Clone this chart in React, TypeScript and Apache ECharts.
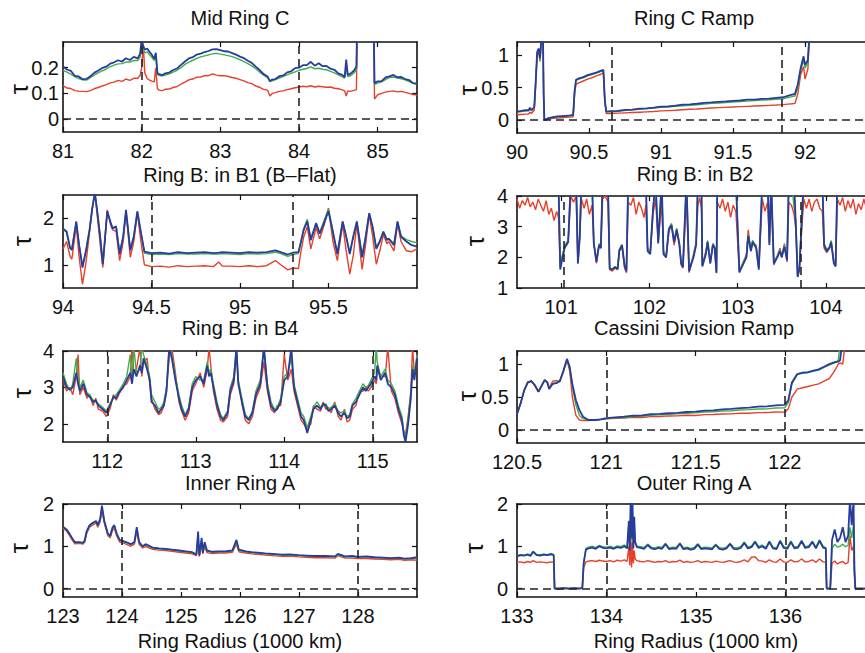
import React, { useEffect, useRef } from "react";
import * as echarts from "echarts";

const FONT = "'Liberation Sans', Arial, Helvetica, sans-serif";
const RED = "#e6402b";
const GREEN = "#3fae4a";
const BLUE = "#283c9c";

// ---------- Panel 1: Mid Ring C ----------
const P1_X = [
  81.0, 81.05, 81.1, 81.15, 81.2, 81.25, 81.3, 81.35, 81.4, 81.45,
  81.5, 81.55, 81.6, 81.65, 81.7, 81.75, 81.8, 81.85, 81.9, 81.95,
  81.98, 82.0, 82.02, 82.04, 82.07, 82.1, 82.13, 82.16, 82.18, 82.2,
  82.22, 82.26, 82.3, 82.35, 82.4, 82.45, 82.5, 82.55, 82.6, 82.65,
  82.7, 82.75, 82.8, 82.85, 82.9, 82.95, 83.0, 83.05, 83.1, 83.15,
  83.2, 83.25, 83.3, 83.35, 83.4, 83.45, 83.5, 83.55, 83.6, 83.63,
  83.66, 83.7, 83.75, 83.8, 83.85, 83.9, 83.95, 84.0, 84.05, 84.1,
  84.15, 84.2, 84.25, 84.3, 84.35, 84.4, 84.45, 84.5, 84.55, 84.58,
  84.6, 84.62, 84.65, 84.7, 84.73, 84.75, 84.8, 84.85, 84.9, 84.94,
  84.96, 85.0, 85.05, 85.1, 85.15, 85.2, 85.25, 85.3, 85.35, 85.4,
  85.45, 85.5,
];
const P1_BLUE = [
  0.205, 0.193, 0.188, 0.168, 0.166, 0.155, 0.157, 0.167, 0.181, 0.189,
  0.199, 0.204, 0.216, 0.221, 0.229, 0.224, 0.237, 0.23, 0.242, 0.236,
  0.255, 0.31, 0.285, 0.27, 0.275, 0.262, 0.25, 0.235, 0.258, 0.18,
  0.175, 0.171, 0.178, 0.181, 0.191, 0.197, 0.211, 0.224, 0.236, 0.241,
  0.251, 0.255, 0.261, 0.265, 0.271, 0.272, 0.268, 0.264, 0.263, 0.257,
  0.251, 0.243, 0.237, 0.227, 0.219, 0.204, 0.191, 0.175, 0.166, 0.148,
  0.154, 0.156, 0.167, 0.17, 0.182, 0.186, 0.198, 0.2, 0.21, 0.21,
  0.223, 0.208, 0.217, 0.206, 0.207, 0.196, 0.192, 0.178, 0.172, 0.163,
  0.232, 0.172, 0.176, 0.189, 0.205, 0.6, 0.6, 0.6, 0.6, 0.6,
  0.14, 0.147, 0.148, 0.162, 0.166, 0.172, 0.163, 0.164, 0.156, 0.152,
  0.14, 0.138,
];
const P1_GREEN = [
  0.19, 0.183, 0.175, 0.165, 0.158, 0.153, 0.152, 0.162, 0.172, 0.181,
  0.188, 0.195, 0.204, 0.21, 0.215, 0.216, 0.222, 0.222, 0.228, 0.228,
  0.24, 0.29, 0.27, 0.258, 0.262, 0.25, 0.24, 0.228, 0.245, 0.175,
  0.17, 0.168, 0.171, 0.176, 0.183, 0.19, 0.2, 0.213, 0.222, 0.229,
  0.236, 0.242, 0.246, 0.25, 0.254, 0.256, 0.253, 0.25, 0.247, 0.243,
  0.237, 0.231, 0.224, 0.216, 0.207, 0.196, 0.183, 0.171, 0.161, 0.146,
  0.149, 0.154, 0.16, 0.166, 0.172, 0.178, 0.184, 0.19, 0.194, 0.197,
  0.203, 0.196, 0.198, 0.194, 0.192, 0.186, 0.18, 0.172, 0.164, 0.16,
  0.2, 0.166, 0.168, 0.18, 0.192, 0.6, 0.6, 0.6, 0.6, 0.6,
  0.135, 0.14, 0.145, 0.154, 0.162, 0.164, 0.16, 0.157, 0.153, 0.146,
  0.139, 0.135,
];
const P1_RED = [
  0.13, 0.121, 0.119, 0.111, 0.109, 0.108, 0.107, 0.111, 0.119, 0.123,
  0.129, 0.134, 0.141, 0.144, 0.151, 0.147, 0.156, 0.151, 0.159, 0.159,
  0.17, 0.2, 0.29, 0.18, 0.158, 0.152, 0.148, 0.145, 0.2, 0.118,
  0.113, 0.111, 0.116, 0.117, 0.123, 0.127, 0.136, 0.144, 0.153, 0.156,
  0.163, 0.164, 0.169, 0.169, 0.176, 0.171, 0.169, 0.169, 0.166, 0.162,
  0.159, 0.154, 0.149, 0.142, 0.138, 0.129, 0.124, 0.116, 0.113, 0.09,
  0.1, 0.103, 0.108, 0.11, 0.115, 0.118, 0.122, 0.125, 0.128, 0.126,
  0.13, 0.125, 0.128, 0.126, 0.124, 0.125, 0.12, 0.118, 0.114, 0.11,
  0.09, 0.11, 0.108, 0.112, 0.115, 0.6, 0.6, 0.6, 0.6, 0.6,
  0.078, 0.095, 0.1, 0.105, 0.108, 0.11, 0.106, 0.108, 0.104, 0.1,
  0.096, 0.094,
];

// ---------- Panel 2: Ring C Ramp ----------
const P2_X = [
  90.0, 90.03, 90.06, 90.08, 90.09, 90.1, 90.12, 90.13, 90.14, 90.15,
  90.16, 90.17, 90.18, 90.185, 90.19, 90.2, 90.22, 90.25, 90.28, 90.31,
  90.34, 90.37, 90.39, 90.4, 90.41, 90.43, 90.46, 90.49, 90.52, 90.55,
  90.58, 90.6, 90.61, 90.62, 90.65, 90.7, 90.75, 90.8, 90.85, 90.9,
  90.95, 91.0, 91.05, 91.1, 91.15, 91.2, 91.25, 91.3, 91.35, 91.4,
  91.45, 91.5, 91.55, 91.6, 91.65, 91.7, 91.75, 91.8, 91.85, 91.88,
  91.91, 91.93, 91.95, 91.97, 91.99, 92.0, 92.02, 92.03, 92.05, 92.1,
  92.2, 92.3, 92.4, 92.5,
];
const P2_BLUE = [
  0.13, 0.14, 0.15, 0.15, 0.19, 0.15, 0.2, 0.6, 1.05, 1.1,
  0.95, 1.3, 1.4, 0.4, 0.0, 0.01, 0.03, 0.045, 0.055, 0.06,
  0.065, 0.07, 0.08, 0.45, 0.62, 0.64, 0.66, 0.69, 0.71, 0.73,
  0.755, 0.77, 0.3, 0.13, 0.135, 0.14, 0.155, 0.16, 0.175, 0.18,
  0.19, 0.205, 0.21, 0.22, 0.235, 0.24, 0.25, 0.262, 0.27, 0.28,
  0.285, 0.295, 0.3, 0.312, 0.315, 0.325, 0.33, 0.34, 0.35, 0.37,
  0.39, 0.4, 0.55, 0.8, 0.98, 0.85, 0.92, 1.3, 1.6, 2.0,
  2.0, 2.0, 2.0, 2.0,
];
const P2_GREEN = [
  0.12, 0.13, 0.14, 0.14, 0.18, 0.14, 0.19, 0.58, 1.03, 1.08,
  0.93, 1.3, 1.4, 0.4, 0.0, 0.01, 0.028, 0.04, 0.05, 0.055,
  0.06, 0.065, 0.075, 0.44, 0.61, 0.63, 0.65, 0.68, 0.7, 0.72,
  0.745, 0.76, 0.3, 0.125, 0.125, 0.135, 0.145, 0.155, 0.165, 0.175,
  0.185, 0.195, 0.2, 0.21, 0.22, 0.228, 0.235, 0.245, 0.255, 0.262,
  0.27, 0.278, 0.285, 0.29, 0.298, 0.305, 0.312, 0.32, 0.328, 0.345,
  0.36, 0.37, 0.5, 0.76, 0.93, 0.8, 0.88, 1.3, 1.6, 2.0,
  2.0, 2.0, 2.0, 2.0,
];
const P2_RED = [
  0.08, 0.085, 0.09, 0.09, 0.12, 0.1, 0.15, 0.55, 1.0, 1.05,
  0.9, 1.3, 1.4, 0.35, 0.0, 0.0, 0.015, 0.025, 0.03, 0.035,
  0.04, 0.045, 0.05, 0.4, 0.55, 0.57, 0.6, 0.63, 0.65, 0.68,
  0.7, 0.73, 0.28, 0.1, 0.1, 0.105, 0.11, 0.115, 0.12, 0.125,
  0.13, 0.14, 0.145, 0.15, 0.158, 0.165, 0.17, 0.178, 0.185, 0.19,
  0.195, 0.2, 0.205, 0.21, 0.215, 0.22, 0.225, 0.23, 0.237, 0.245,
  0.25, 0.255, 0.4, 0.7, 0.82, 0.63, 0.78, 1.3, 1.6, 2.0,
  2.0, 2.0, 2.0, 2.0,
];

// ---------- Panel 3: Ring B: in B1 (B-Flat) ----------
const P3_X = [
  94.0, 94.02, 94.04, 94.05, 94.075, 94.09, 94.11, 94.13, 94.15, 94.165,
  94.18, 94.195, 94.21, 94.225, 94.25, 94.27, 94.28, 94.3, 94.32, 94.34,
  94.356, 94.38, 94.4, 94.42, 94.44, 94.46, 94.5, 94.55, 94.6, 94.65,
  94.7, 94.75, 94.8, 94.85, 94.88, 94.9, 94.95, 95.0, 95.05, 95.1,
  95.15, 95.2, 95.23, 95.27, 95.3, 95.33, 95.345, 95.36, 95.38, 95.4,
  95.43, 95.45, 95.475, 95.5, 95.525, 95.55, 95.58, 95.6, 95.62, 95.64,
  95.66, 95.69, 95.71, 95.73, 95.75, 95.77, 95.79, 95.81, 95.83, 95.84,
  95.87, 95.89, 95.91, 95.94, 95.97, 96.0,
];
const P3_BLUE = [
  1.78, 1.71, 1.36, 1.32, 1.93, 1.45, 0.94, 1.3, 1.75, 2.2,
  2.55, 2.1, 1.6, 1.01, 2.15, 1.9, 1.78, 1.82, 1.23, 1.6,
  2.18, 1.31, 1.6, 2.15, 1.7, 1.28, 1.25, 1.26, 1.24, 1.27,
  1.25, 1.26, 1.27, 1.25, 1.26, 1.27, 1.26, 1.25, 1.27, 1.26,
  1.27, 1.31, 1.27, 1.22, 1.26, 1.27, 1.5, 1.75, 1.93, 1.53,
  1.89, 1.67, 1.9, 2.15, 1.7, 1.23, 1.93, 1.6, 1.23, 1.6,
  1.93, 1.16, 1.6, 2.11, 1.8, 1.34, 1.5, 1.71, 1.53, 1.56,
  1.42, 1.93, 1.6, 1.5, 1.42, 1.39,
];
const P3_GREEN = [
  1.75, 1.72, 1.38, 1.33, 1.92, 1.47, 0.98, 1.32, 1.76, 2.2,
  2.55, 2.1, 1.62, 1.04, 2.12, 1.9, 1.8, 1.83, 1.26, 1.62,
  2.15, 1.33, 1.62, 2.12, 1.7, 1.25, 1.22, 1.23, 1.22, 1.24,
  1.23, 1.23, 1.24, 1.23, 1.23, 1.24, 1.23, 1.22, 1.24, 1.23,
  1.24, 1.27, 1.24, 1.18, 1.22, 1.24, 1.52, 1.78, 1.98, 1.56,
  1.9, 1.69, 1.95, 2.2, 1.72, 1.26, 1.93, 1.62, 1.26, 1.62,
  1.93, 1.2, 1.62, 2.1, 1.8, 1.37, 1.52, 1.72, 1.55, 1.57,
  1.45, 1.92, 1.62, 1.54, 1.5, 1.47,
];
const P3_RED = [
  1.34, 1.5, 1.18, 1.12, 1.85, 1.2, 0.58, 1.05, 1.7, 2.2,
  2.55, 2.0, 1.45, 0.94, 2.18, 1.85, 1.75, 1.72, 1.09, 1.5,
  2.15, 1.16, 1.5, 2.12, 1.5, 1.0, 0.96, 0.97, 0.95, 0.98,
  0.96, 0.97, 0.98, 0.96, 1.06, 0.97, 0.97, 0.96, 0.98, 0.96,
  0.98, 1.09, 1.0, 0.89, 0.93, 0.92, 1.3, 1.6, 1.82, 1.34,
  1.8, 1.56, 1.85, 2.22, 1.5, 1.09, 1.88, 1.3, 0.8, 1.2,
  1.88, 0.9, 1.45, 2.08, 1.6, 1.01, 1.3, 1.65, 1.45, 1.5,
  1.3, 1.88, 1.5, 1.3, 1.28, 1.34,
];

// ---------- Panel 4: Ring B: in B2 ----------
const P4_X = [
  100.5, 100.53, 100.56, 100.59, 100.62, 100.65, 100.68, 100.71, 100.74, 100.77,
  100.8, 100.83, 100.86, 100.89, 100.92, 100.95, 100.97,
  100.99, 101.01, 101.04, 101.08, 101.11, 101.14, 101.17, 101.19, 101.21, 101.23,
  101.26, 101.29, 101.32, 101.35, 101.37, 101.4, 101.43, 101.45, 101.47,
  101.5, 101.53, 101.55, 101.58, 101.61, 101.64, 101.66, 101.69, 101.72, 101.74, 101.76,
  101.79, 101.82, 101.85, 101.88, 101.91, 101.94, 101.96,
  101.98, 102.01, 102.04, 102.07, 102.1, 102.14, 102.16, 102.19, 102.22, 102.25,
  102.28, 102.31, 102.34, 102.36, 102.38, 102.42, 102.45, 102.5, 102.53, 102.55,
  102.57, 102.59, 102.6, 102.64, 102.66, 102.69, 102.72, 102.74, 102.76, 102.77,
  102.8, 102.83, 102.86, 102.89, 102.92, 102.95, 102.98,
  103.02, 103.05, 103.1, 103.12, 103.15, 103.17, 103.21, 103.24, 103.28, 103.31,
  103.34, 103.36, 103.38, 103.41, 103.45, 103.48, 103.5, 103.53, 103.56, 103.58,
  103.61, 103.64, 103.66, 103.68, 103.7, 103.73, 103.75,
  103.78, 103.81, 103.84, 103.87, 103.9, 103.93, 103.96,
  103.98, 104.01, 104.04, 104.06, 104.09, 104.11, 104.13,
  104.16, 104.19, 104.22, 104.25, 104.28, 104.31, 104.34, 104.37, 104.4, 104.43,
  104.46, 104.5,
];
const P4_BLUE = [
  4.5, 4.5, 4.5, 4.5, 4.5, 4.5, 4.5, 4.5, 4.5, 4.5,
  4.5, 4.5, 4.5, 4.5, 4.5, 4.5, 4.5,
  1.6, 1.9, 2.3, 2.5, 4.5, 4.5, 4.5, 1.8, 2.6, 4.5,
  4.5, 4.5, 4.5, 4.5, 2.45, 1.85, 2.4, 2.3, 4.5,
  4.5, 4.5, 1.63, 1.6, 1.68, 1.62, 2.23, 2.4, 1.7, 1.55, 4.5,
  4.5, 4.5, 4.5, 4.5, 4.5, 4.5, 4.5,
  2.2, 2.1, 3.5, 4.5, 2.45, 4.5, 2.1, 2.0, 2.9, 3.05,
  2.5, 2.9, 2.4, 1.8, 1.68, 4.5, 1.55, 2.0, 2.4, 4.5,
  4.5, 4.5, 1.7, 2.1, 2.5, 1.8, 2.4, 2.3, 1.5, 4.5,
  4.5, 4.5, 4.5, 4.5, 4.5, 4.5, 4.5,
  1.52, 1.7, 2.0, 2.7, 2.2, 2.5, 2.3, 1.6, 4.5, 4.5,
  4.5, 2.4, 4.5, 1.8, 2.0, 2.2, 2.0, 2.35, 1.9, 4.5,
  4.5, 4.5, 3.0, 1.36, 1.6, 3.4, 4.5,
  4.5, 4.5, 4.5, 4.5, 4.5, 4.5, 4.5,
  2.4, 2.2, 2.3, 2.5, 1.8, 1.71, 4.5,
  4.5, 4.5, 4.5, 4.5, 4.5, 4.5, 4.5, 4.5, 4.5, 4.5,
  4.5, 4.5,
];
const P4_GREEN = [
  4.5, 4.5, 4.5, 4.5, 4.5, 4.5, 4.5, 4.5, 4.5, 4.5,
  4.5, 4.5, 4.5, 4.5, 4.5, 4.5, 4.5,
  1.7, 2.0, 2.4, 2.55, 4.5, 4.5, 4.5, 1.85, 2.7, 4.5,
  4.5, 4.5, 4.5, 4.5, 2.5, 1.9, 2.45, 2.35, 4.5,
  4.5, 4.5, 1.65, 1.62, 1.7, 1.65, 2.25, 2.42, 1.75, 1.6, 4.5,
  4.5, 4.5, 4.5, 4.5, 4.5, 4.5, 4.5,
  2.25, 2.15, 3.55, 4.5, 2.5, 4.5, 2.15, 2.05, 2.95, 3.1,
  2.55, 2.95, 2.45, 1.85, 1.72, 4.5, 1.6, 2.05, 2.45, 4.5,
  4.5, 4.5, 1.75, 2.15, 2.55, 1.85, 2.45, 2.35, 1.55, 4.5,
  4.5, 4.5, 4.5, 4.5, 4.5, 4.5, 4.5,
  1.56, 1.75, 2.05, 2.75, 2.25, 2.55, 2.35, 1.65, 4.5, 4.5,
  4.5, 2.45, 4.5, 1.85, 2.05, 2.25, 2.05, 2.4, 1.95, 4.5,
  4.5, 3.6, 3.2, 1.45, 1.7, 3.6, 4.5,
  4.5, 4.5, 4.5, 4.5, 4.5, 4.5, 4.5,
  2.45, 2.25, 2.35, 2.55, 1.85, 1.76, 4.5,
  4.5, 4.5, 4.5, 4.5, 4.5, 4.5, 4.5, 4.5, 4.5, 4.5,
  4.5, 4.5,
];
const P4_RED = [
  3.9, 3.6, 3.85, 3.7, 3.95, 3.65, 3.8, 3.55, 3.9, 3.7,
  3.5, 3.85, 3.4, 3.6, 3.2, 3.5, 3.3,
  1.7, 2.0, 2.35, 2.5, 4.0, 3.8, 4.0, 1.8, 2.6, 3.9,
  3.6, 3.9, 3.4, 3.7, 2.5, 1.8, 2.4, 2.3, 3.9,
  4.0, 3.8, 1.6, 1.55, 1.65, 1.6, 2.2, 2.35, 1.65, 1.5, 3.8,
  3.7, 3.95, 3.4, 3.8, 3.6, 3.3, 3.7,
  2.3, 2.15, 3.4, 3.9, 2.5, 3.8, 2.2, 2.0, 2.8, 3.1,
  2.4, 2.85, 2.5, 1.75, 1.65, 3.9, 1.5, 2.1, 2.5, 3.7,
  3.95, 3.6, 1.75, 2.2, 2.5, 1.8, 2.45, 2.3, 1.48, 3.8,
  3.6, 3.9, 3.5, 3.8, 3.3, 3.7, 3.5,
  1.5, 1.75, 2.1, 2.9, 2.2, 2.45, 2.4, 1.65, 3.9, 3.5,
  3.8, 2.5, 3.9, 1.75, 2.05, 2.3, 2.0, 2.45, 1.85, 3.8,
  3.7, 3.4, 2.9, 1.4, 1.65, 3.1, 3.9,
  3.6, 3.9, 3.5, 3.8, 3.9, 3.6, 3.5,
  2.3, 2.15, 2.3, 2.5, 1.85, 1.7, 3.9,
  3.7, 3.95, 3.5, 3.85, 3.6, 3.9, 3.4, 3.75, 3.55, 3.9,
  3.6, 3.8,
];

// ---------- Panel 5: Ring B: in B4 ----------
const P5_X = [
  111.5, 111.54, 111.58, 111.61, 111.65, 111.67, 111.69, 111.73, 111.77, 111.8,
  111.84, 111.87, 111.9, 111.95, 111.99, 112.03, 112.07, 112.1, 112.13, 112.18,
  112.22, 112.26, 112.28, 112.3, 112.33, 112.37, 112.39, 112.41, 112.45, 112.48,
  112.5, 112.54, 112.58, 112.61, 112.64, 112.67, 112.7, 112.73, 112.77, 112.81,
  112.84, 112.88, 112.92, 112.96, 113.0, 113.05, 113.09, 113.13, 113.15, 113.17,
  113.2, 113.24, 113.28, 113.31, 113.36, 113.39, 113.43, 113.46, 113.48, 113.53,
  113.56, 113.6, 113.64, 113.68, 113.73, 113.77, 113.81, 113.85, 113.89, 113.92,
  113.96, 114.0, 114.04, 114.08, 114.11, 114.15, 114.19, 114.22, 114.26, 114.3,
  114.33, 114.37, 114.41, 114.44, 114.47, 114.5, 114.53, 114.57, 114.61, 114.64,
  114.68, 114.71, 114.74, 114.77, 114.81, 114.85, 114.89, 114.92, 114.95, 114.98,
  115.02, 115.04, 115.05, 115.09, 115.14, 115.17, 115.21, 115.25, 115.29, 115.33,
  115.35, 115.37, 115.4, 115.43, 115.45, 115.47, 115.5,
];
const P5_BLUE = [
  3.3, 3.0, 2.95, 3.0, 3.4, 3.1, 2.9, 3.1, 2.8, 2.75,
  2.6, 2.65, 2.5, 2.4, 2.3, 2.5, 2.75, 2.7, 2.85, 3.0,
  3.2, 3.4, 3.1, 3.5, 3.3, 3.6, 3.4, 3.8, 3.5, 3.2,
  2.6, 2.5, 2.3, 2.4, 2.5, 2.9, 4.1, 3.8, 3.2, 2.7,
  2.4, 2.2, 2.4, 3.0, 3.2, 3.3, 3.1, 3.6, 3.3, 3.4,
  3.0, 2.5, 2.2, 2.1, 2.3, 2.9, 3.2, 4.1, 3.1, 2.5,
  2.2, 2.1, 2.3, 2.8, 3.1, 4.1, 3.0, 2.5, 2.35, 2.4,
  2.6, 3.2, 3.3, 4.1, 3.0, 2.6, 2.2, 2.1, 1.75, 2.1,
  2.4, 2.5, 2.4, 2.55, 2.5, 2.35, 2.4, 2.5, 2.3, 2.2,
  2.3, 2.15, 2.2, 2.5, 2.6, 2.8, 3.0, 2.9, 3.0, 3.1,
  3.3, 3.2, 3.6, 3.2, 3.4, 3.1, 3.0, 2.8, 2.4, 2.1,
  1.7, 1.5, 2.0, 2.7, 3.5, 3.2, 3.8,
];
const P5_GREEN = [
  3.4, 3.1, 2.9, 3.1, 3.8, 3.3, 3.0, 3.2, 2.85, 2.8,
  2.65, 2.6, 2.55, 2.45, 2.35, 2.55, 2.7, 2.8, 2.9, 3.1,
  3.3, 3.9, 3.2, 4.1, 3.4, 3.5, 4.1, 3.9, 3.6, 3.3,
  2.8, 2.6, 2.4, 2.45, 2.6, 3.0, 4.1, 3.9, 3.3, 2.8,
  2.5, 2.25, 2.45, 3.1, 3.3, 3.2, 3.2, 3.7, 3.4, 3.5,
  3.1, 2.6, 2.25, 2.15, 2.35, 3.0, 3.3, 4.1, 3.2, 2.6,
  2.25, 2.15, 2.35, 2.9, 3.2, 4.1, 3.1, 2.6, 2.4, 2.45,
  2.7, 3.3, 3.4, 3.8, 3.1, 2.7, 2.3, 2.2, 1.9, 2.2,
  2.45, 2.6, 2.45, 2.5, 2.55, 2.4, 2.45, 2.55, 2.35, 2.3,
  2.35, 2.2, 2.25, 2.55, 2.7, 2.9, 3.1, 3.0, 3.05, 3.2,
  3.4, 4.1, 3.7, 3.3, 3.5, 3.2, 3.1, 2.9, 2.5, 2.2,
  1.8, 1.6, 2.1, 2.8, 3.6, 3.3, 3.9,
];
const P5_RED = [
  3.25, 2.9, 3.0, 2.8, 3.3, 3.9, 2.8, 3.0, 2.7, 2.8,
  2.5, 2.7, 2.4, 2.35, 2.2, 2.4, 2.8, 2.65, 2.8, 3.05,
  3.1, 3.3, 4.1, 3.4, 3.5, 4.1, 3.3, 3.7, 3.8, 3.1,
  2.7, 2.4, 2.25, 2.3, 2.5, 3.0, 3.8, 4.1, 3.4, 2.6,
  2.35, 2.1, 2.3, 2.9, 3.1, 3.4, 3.0, 3.5, 4.1, 3.6,
  2.9, 2.4, 2.1, 2.05, 2.2, 2.8, 3.1, 3.9, 3.2, 2.45,
  2.1, 2.0, 2.2, 2.7, 3.0, 3.7, 2.9, 2.4, 2.3, 2.5,
  2.5, 3.9, 3.2, 3.5, 2.9, 2.5, 2.1, 2.0, 1.85, 2.0,
  2.5, 2.4, 2.35, 2.6, 2.4, 2.45, 2.3, 2.6, 2.2, 2.1,
  2.4, 2.05, 2.1, 2.4, 2.5, 2.9, 2.9, 3.0, 2.9, 3.0,
  3.2, 3.1, 3.5, 3.3, 3.3, 4.1, 2.9, 2.7, 2.3, 2.0,
  1.8, 1.7, 2.2, 2.9, 4.1, 3.4, 3.6,
];

// ---------- Panel 6: Cassini Division Ramp ----------
const P6_X = [
  120.5, 120.52, 120.54, 120.56, 120.58, 120.6, 120.62, 120.64, 120.655, 120.67,
  120.68, 120.7, 120.72, 120.74, 120.76, 120.78, 120.795, 120.81, 120.83, 120.85,
  120.87, 120.9, 120.94, 120.97, 121.0, 121.05, 121.1, 121.15, 121.2, 121.25,
  121.3, 121.35, 121.4, 121.45, 121.5, 121.55, 121.6, 121.65, 121.7, 121.75,
  121.8, 121.85, 121.9, 121.95, 122.0, 122.02, 122.04, 122.07, 122.1, 122.13,
  122.16, 122.19, 122.22, 122.25, 122.28, 122.3, 122.31, 122.325, 122.35, 122.4,
  122.5,
];
const P6_BLUE = [
  0.24, 0.4, 0.6, 0.72, 0.74, 0.68, 0.58, 0.68, 0.76, 0.72,
  0.62, 0.7, 0.71, 0.74, 0.9, 1.08, 0.96, 0.7, 0.45, 0.3,
  0.2, 0.15, 0.15, 0.16, 0.18, 0.19, 0.2, 0.215, 0.22, 0.24,
  0.243, 0.253, 0.258, 0.272, 0.278, 0.292, 0.298, 0.312, 0.318, 0.332,
  0.338, 0.352, 0.358, 0.372, 0.38, 0.45, 0.72, 0.85, 0.87, 0.88,
  0.9, 0.92, 0.96, 1.0, 1.03, 1.04, 1.06, 1.4, 1.6, 2.0,
  2.0,
];
const P6_GREEN = [
  0.24, 0.4, 0.6, 0.72, 0.74, 0.68, 0.58, 0.68, 0.76, 0.72,
  0.63, 0.7, 0.72, 0.75, 0.9, 1.07, 0.95, 0.65, 0.38, 0.22,
  0.17, 0.15, 0.15, 0.16, 0.17, 0.182, 0.188, 0.202, 0.208, 0.222,
  0.228, 0.237, 0.243, 0.252, 0.258, 0.272, 0.274, 0.287, 0.289, 0.302,
  0.308, 0.317, 0.319, 0.332, 0.335, 0.42, 0.7, 0.84, 0.86, 0.87,
  0.89, 0.91, 0.95, 0.99, 1.02, 1.06, 1.3, 1.5, 1.6, 2.0,
  2.0,
];
const P6_RED = [
  0.24, 0.4, 0.6, 0.73, 0.75, 0.67, 0.58, 0.69, 0.75, 0.73,
  0.64, 0.74, 0.75, 0.74, 0.88, 1.06, 0.9, 0.5, 0.22, 0.15,
  0.14, 0.14, 0.15, 0.16, 0.17, 0.177, 0.18, 0.192, 0.188, 0.202,
  0.203, 0.212, 0.213, 0.222, 0.218, 0.232, 0.233, 0.242, 0.243, 0.252,
  0.253, 0.262, 0.263, 0.272, 0.27, 0.32, 0.5, 0.62, 0.64, 0.66,
  0.68, 0.7, 0.74, 0.78, 0.9, 1.0, 1.02, 1.0, 1.6, 2.0,
  2.0,
];

// ---------- Panel 7: Inner Ring A ----------
const P7_X = [
  123.0, 123.06, 123.11, 123.16, 123.2, 123.28, 123.34, 123.37, 123.4, 123.45,
  123.5, 123.56, 123.59, 123.63, 123.66, 123.7, 123.76, 123.8, 123.84, 123.87,
  123.91, 123.96, 124.07, 124.15, 124.21, 124.25, 124.29, 124.35, 124.4, 124.52,
  124.63, 124.74, 124.85, 124.97, 125.08, 125.19, 125.26, 125.29, 125.31, 125.35,
  125.37, 125.4, 125.44, 125.53, 125.64, 125.75, 125.87, 125.94, 125.98, 126.1,
  126.2, 126.3, 126.43, 126.55, 126.71, 126.85, 126.99, 127.13, 127.27, 127.45,
  127.61, 127.66, 127.78, 127.9, 128.0, 128.14, 128.28, 128.42, 128.56, 128.7,
  128.79, 128.9, 129.0,
];
const P7_BLUE = [
  1.46, 1.4, 1.3, 1.18, 1.1, 1.1, 1.08, 1.15, 1.35, 1.5,
  1.55, 1.6, 1.5, 1.65, 1.96, 1.6, 1.3, 1.25, 1.45, 1.5,
  1.3, 1.15, 1.1, 1.05, 1.1, 1.45, 1.1, 1.0, 1.05, 0.97,
  0.95, 0.94, 0.92, 0.9, 0.88, 0.86, 0.8, 1.35, 0.78, 1.2,
  0.85, 1.1, 0.9, 0.87, 0.88, 0.88, 0.9, 1.15, 0.92, 0.88,
  0.86, 0.85, 0.83, 0.82, 0.8, 0.81, 0.79, 0.78, 0.77, 0.77,
  0.76, 0.82, 0.76, 0.77, 0.75, 0.76, 0.74, 0.73, 0.72, 0.73,
  0.71, 0.72, 0.74,
];
const P7_GREEN = [
  1.44, 1.39, 1.28, 1.17, 1.09, 1.09, 1.07, 1.14, 1.33, 1.48,
  1.53, 1.58, 1.48, 1.63, 1.9, 1.58, 1.28, 1.24, 1.42, 1.47,
  1.28, 1.14, 1.09, 1.04, 1.09, 1.4, 1.09, 0.99, 1.03, 0.96,
  0.94, 0.93, 0.91, 0.89, 0.87, 0.85, 0.82, 1.25, 0.8, 1.12,
  0.86, 1.05, 0.89, 0.86, 0.87, 0.87, 0.89, 1.1, 0.9, 0.87,
  0.85, 0.84, 0.82, 0.81, 0.79, 0.8, 0.78, 0.77, 0.76, 0.76,
  0.75, 0.8, 0.75, 0.76, 0.74, 0.75, 0.73, 0.72, 0.71, 0.72,
  0.7, 0.71, 0.72,
];
const P7_RED = [
  1.42, 1.36, 1.25, 1.14, 1.06, 1.07, 1.05, 1.1, 1.3, 1.45,
  1.5, 1.55, 1.45, 1.58, 1.85, 1.55, 1.25, 1.2, 1.38, 1.42,
  1.25, 1.1, 1.05, 1.0, 1.05, 1.35, 1.05, 0.96, 0.99, 0.93,
  0.91, 0.9, 0.88, 0.86, 0.84, 0.82, 0.78, 1.15, 0.76, 1.05,
  0.82, 1.0, 0.85, 0.83, 0.84, 0.84, 0.86, 1.05, 0.87, 0.84,
  0.82, 0.81, 0.79, 0.78, 0.76, 0.77, 0.75, 0.74, 0.73, 0.73,
  0.72, 0.78, 0.72, 0.72, 0.71, 0.71, 0.7, 0.69, 0.68, 0.69,
  0.67, 0.68, 0.67,
];

// ---------- Panel 8: Outer Ring A ----------
const P8_X = [
  133.0, 133.04, 133.08, 133.12, 133.15, 133.18, 133.22, 133.26, 133.3, 133.34,
  133.38, 133.41, 133.42, 133.46, 133.52, 133.58, 133.64, 133.7, 133.73, 133.745,
  133.77, 133.8, 133.84, 133.88, 133.92, 133.96, 134.0, 134.04, 134.08, 134.12,
  134.16, 134.2, 134.23, 134.25, 134.26, 134.27, 134.28, 134.29, 134.3, 134.31,
  134.32, 134.34, 134.38, 134.42, 134.46, 134.5, 134.54, 134.58, 134.62, 134.66,
  134.7, 134.74, 134.78, 134.82, 134.86, 134.9, 134.94, 134.98, 135.02, 135.06,
  135.1, 135.14, 135.18, 135.22, 135.26, 135.3, 135.34, 135.38, 135.42, 135.46,
  135.5, 135.54, 135.58, 135.62, 135.66, 135.7, 135.74, 135.78, 135.82, 135.86,
  135.9, 135.94, 135.98, 136.02, 136.06, 136.1, 136.14, 136.18, 136.22, 136.26,
  136.3, 136.34, 136.38, 136.42, 136.45, 136.46, 136.5, 136.52, 136.55, 136.58,
  136.61, 136.64, 136.67, 136.7, 136.72, 136.74, 136.76, 136.77, 136.78, 136.82,
  136.9, 137.0,
];
const P8_BLUE = [
  0.76, 0.79, 0.78, 0.8, 0.77, 0.87, 0.79, 0.78, 0.8, 0.79,
  0.81, 0.79, 0.0, 0.0, 0.01, 0.0, 0.01, 0.0, 0.02, 0.6,
  0.92, 0.95, 0.97, 0.94, 1.0, 0.96, 0.95, 0.97, 0.94, 0.98,
  0.96, 1.0, 0.95, 1.6, 0.9, 2.1, 1.2, 2.1, 0.95, 1.7,
  1.1, 0.98, 0.96, 0.94, 1.03, 0.95, 0.93, 0.96, 0.94, 1.05,
  0.93, 0.95, 0.94, 1.06, 0.93, 0.95, 0.92, 0.94, 1.04, 0.93,
  0.95, 0.94, 0.93, 1.03, 0.94, 0.92, 0.95, 1.05, 0.94, 0.93,
  0.96, 1.08, 0.95, 0.98, 1.1, 0.96, 1.0, 0.94, 1.1, 0.95,
  0.93, 1.12, 0.96, 0.94, 1.1, 0.95, 0.97, 1.12, 0.96, 0.98,
  1.1, 0.95, 1.13, 0.97, 0.95, 0.0, 0.0, 1.15, 1.4, 1.1,
  1.2, 1.45, 1.1, 1.25, 2.1, 1.5, 2.1, 0.5, 0.0, 0.0,
  0.0, 0.0,
];
const P8_GREEN = [
  0.78, 0.8, 0.79, 0.82, 0.79, 0.88, 0.8, 0.8, 0.81, 0.8,
  0.83, 0.8, 0.0, 0.0, 0.01, 0.0, 0.01, 0.0, 0.02, 0.62,
  0.95, 0.98, 1.0, 0.97, 1.02, 0.99, 0.98, 1.0, 0.97, 1.01,
  0.99, 1.03, 0.98, 1.5, 0.95, 1.9, 1.15, 1.8, 1.0, 1.5,
  1.1, 1.0, 0.99, 0.97, 1.05, 0.98, 0.96, 0.99, 0.97, 1.07,
  0.96, 0.98, 0.97, 1.08, 0.96, 0.98, 0.95, 0.97, 1.06, 0.96,
  0.98, 0.97, 0.96, 1.05, 0.97, 0.95, 0.98, 1.07, 0.97, 0.96,
  0.99, 1.1, 0.98, 1.0, 1.12, 0.99, 1.03, 0.97, 1.12, 0.98,
  0.96, 1.14, 0.99, 0.97, 1.12, 0.98, 1.0, 1.14, 0.99, 1.01,
  1.12, 0.98, 1.15, 1.0, 0.97, 0.0, 0.0, 0.95, 1.05, 0.98,
  1.0, 1.05, 0.99, 1.02, 1.45, 1.2, 1.5, 0.4, 0.0, 0.0,
  0.0, 0.0,
];
const P8_RED = [
  0.62, 0.63, 0.61, 0.64, 0.62, 0.66, 0.62, 0.63, 0.62, 0.61,
  0.63, 0.62, 0.0, 0.0, 0.0, 0.0, 0.0, 0.0, 0.01, 0.5,
  0.63, 0.65, 0.66, 0.64, 0.67, 0.65, 0.64, 0.66, 0.63, 0.67,
  0.65, 0.68, 0.64, 1.0, 0.55, 1.25, 0.5, 1.1, 0.6, 0.9,
  0.7, 0.66, 0.64, 0.63, 0.66, 0.64, 0.62, 0.64, 0.63, 0.66,
  0.62, 0.64, 0.63, 0.67, 0.62, 0.64, 0.62, 0.63, 0.66, 0.62,
  0.64, 0.63, 0.62, 0.65, 0.63, 0.62, 0.64, 0.66, 0.63, 0.62,
  0.64, 0.68, 0.63, 0.74, 0.75, 0.66, 0.65, 0.62, 0.68, 0.63,
  0.62, 0.7, 0.63, 0.62, 0.68, 0.63, 0.64, 0.7, 0.63, 0.64,
  0.68, 0.62, 0.7, 0.63, 0.62, 0.0, 0.0, 0.6, 0.65, 0.58,
  0.62, 0.64, 0.58, 0.62, 1.25, 0.9, 1.0, 0.3, 0.0, 0.0,
  0.0, 0.0,
];

// ---------- Tick labels ----------
const P1_XTICKS = [81, 82, 83, 84, 85];
const P1_YTICKS = [0, 0.1, 0.2];
const P2_XTICKS = [90, 90.5, 91, 91.5, 92];
const P2_YTICKS = [0, 0.5, 1];
const P3_XTICKS = [94, 94.5, 95, 95.5];
const P3_YTICKS = [1, 2];
const P4_XTICKS = [101, 102, 103, 104];
const P4_YTICKS = [1, 2, 3, 4];
const P5_XTICKS = [112, 113, 114, 115];
const P5_YTICKS = [2, 3, 4];
const P6_XTICKS = [120.5, 121, 121.5, 122];
const P6_YTICKS = [0, 0.5, 1];
const P7_XTICKS = [123, 124, 125, 126, 127, 128];
const P7_YTICKS = [0, 1, 2];
const P8_XTICKS = [133, 134, 135, 136];
const P8_YTICKS = [0, 1, 2];

// dashed reference lines
const P1_VLINES = [82, 84];
const P2_VLINES = [90.66, 91.84];
const P3_VLINES = [94.5, 95.3];
const P4_VLINES = [101.03, 103.71];
const P5_VLINES = [112, 115];
const P6_VLINES = [121, 122];
const P7_VLINES = [124, 128];
const P8_VLINES = [134, 136];

type Panel = {
  title: string;
  box: [number, number, number, number];
  titlePos: [number, number];
  tauPos: [number, number];
  xRange: [number, number];
  yRange: [number, number];
  xTicks: number[];
  yTicks: number[];
  vLines: number[];
  zeroLine: boolean;
  x: number[];
  red: number[];
  green: number[];
  blue: number[];
  yLabelMargin: number;
  xName?: string;
};

const PANELS: Panel[] = [
  { title: "Mid Ring C", box: [63, 42, 354, 90], titlePos: [240, 18], tauPos: [19, 89], xRange: [81, 85.5], yRange: [-0.05, 0.3],
    xTicks: P1_XTICKS, yTicks: P1_YTICKS, vLines: P1_VLINES, zeroLine: true,
    x: P1_X, red: P1_RED, green: P1_GREEN, blue: P1_BLUE, yLabelMargin: 4 },
  { title: "Ring C Ramp", box: [517, 42, 360, 91], titlePos: [694, 18], tauPos: [468, 90], xRange: [90, 92.5], yRange: [-0.2, 1.2],
    xTicks: P2_XTICKS, yTicks: P2_YTICKS, vLines: P2_VLINES, zeroLine: true,
    x: P2_X, red: P2_RED, green: P2_GREEN, blue: P2_BLUE, yLabelMargin: 8 },
  { title: "Ring B: in B1 (B\u2013Flat)", box: [63, 195, 354, 93], titlePos: [240, 175], tauPos: [22, 241], xRange: [94, 96], yRange: [0.5, 2.5],
    xTicks: P3_XTICKS, yTicks: P3_YTICKS, vLines: P3_VLINES, zeroLine: false,
    x: P3_X, red: P3_RED, green: P3_GREEN, blue: P3_BLUE, yLabelMargin: 9 },
  { title: "Ring B: in B2", box: [517, 196, 353, 92], titlePos: [695, 174], tauPos: [475, 241], xRange: [100.5, 104.5], yRange: [1, 4],
    xTicks: P4_XTICKS, yTicks: P4_YTICKS, vLines: P4_VLINES, zeroLine: false,
    x: P4_X, red: P4_RED, green: P4_GREEN, blue: P4_BLUE, yLabelMargin: 9 },
  { title: "Ring B: in B4", box: [63, 351, 354, 91], titlePos: [240, 328], tauPos: [22, 393], xRange: [111.5, 115.5], yRange: [1.5, 4],
    xTicks: P5_XTICKS, yTicks: P5_YTICKS, vLines: P5_VLINES, zeroLine: false,
    x: P5_X, red: P5_RED, green: P5_GREEN, blue: P5_BLUE, yLabelMargin: 9 },
  { title: "Cassini Division Ramp", box: [517, 351, 357, 92], titlePos: [694, 328], tauPos: [467, 396], xRange: [120.5, 122.5], yRange: [-0.2, 1.2],
    xTicks: P6_XTICKS, yTicks: P6_YTICKS, vLines: P6_VLINES, zeroLine: true,
    x: P6_X, red: P6_RED, green: P6_GREEN, blue: P6_BLUE, yLabelMargin: 8 },
  { title: "Inner Ring A", box: [63, 504, 354, 93], titlePos: [240, 483], tauPos: [19, 548], xRange: [123, 129], yRange: [-0.2, 2],
    xTicks: P7_XTICKS, yTicks: P7_YTICKS, vLines: P7_VLINES, zeroLine: true,
    x: P7_X, red: P7_RED, green: P7_GREEN, blue: P7_BLUE, yLabelMargin: 9, xName: "Ring Radius (1000 km)" },
  { title: "Outer Ring A", box: [517, 504, 358, 93], titlePos: [694, 483], tauPos: [474, 548], xRange: [133, 137], yRange: [-0.2, 2],
    xTicks: P8_XTICKS, yTicks: P8_YTICKS, vLines: P8_VLINES, zeroLine: true,
    x: P8_X, red: P8_RED, green: P8_GREEN, blue: P8_BLUE, yLabelMargin: 9, xName: "Ring Radius (1000 km)" },
];

function zip(xs: number[], ys: number[]) {
  const n = Math.min(xs.length, ys.length);
  const out: number[][] = [];
  for (let i = 0; i < n; i++) out.push([xs[i], ys[i]]);
  return out;
}

function buildOption() {
  const grid: any[] = [];
  const xAxis: any[] = [];
  const yAxis: any[] = [];
  const series: any[] = [];
  const texts: any[] = [];
  const lineColor = "#111";
  PANELS.forEach((p, i) => {
    grid.push({ left: p.box[0], top: p.box[1], width: p.box[2], height: p.box[3], containLabel: false, outerBoundsMode: "none" });
    const tick = (vals: number[]) => ({ show: true, inside: true, length: 5, customValues: vals, lineStyle: { color: lineColor, width: 1.2 } });
    const axisLine = { show: true, onZero: false, lineStyle: { color: lineColor, width: 1.6 } };
    xAxis.push({
      type: "value", gridIndex: i, position: "bottom", min: p.xRange[0], max: p.xRange[1],
      axisLine, axisTick: tick(p.xTicks), splitLine: { show: false },
      axisLabel: { show: true, customValues: p.xTicks, margin: 9, fontSize: 20, fontFamily: FONT, color: "#111", formatter: (v: number) => String(v) },
      name: p.xName || "", nameLocation: "middle", nameGap: 34,
      nameTextStyle: { fontSize: 20, fontFamily: FONT, color: "#111" },
    });
    xAxis.push({
      type: "value", gridIndex: i, position: "top", min: p.xRange[0], max: p.xRange[1],
      axisLine, axisTick: tick(p.xTicks), splitLine: { show: false }, axisLabel: { show: false },
    });
    yAxis.push({
      type: "value", gridIndex: i, position: "left", min: p.yRange[0], max: p.yRange[1],
      axisLine, axisTick: tick(p.yTicks), splitLine: { show: false },
      axisLabel: { show: true, customValues: p.yTicks, margin: p.yLabelMargin, fontSize: 20, fontFamily: FONT, color: "#111", formatter: (v: number) => String(v) },
    });
    yAxis.push({
      type: "value", gridIndex: i, position: "right", min: p.yRange[0], max: p.yRange[1],
      axisLine, axisTick: tick(p.yTicks), splitLine: { show: false }, axisLabel: { show: false },
    });
    const base = { type: "line", xAxisIndex: 2 * i, yAxisIndex: 2 * i, showSymbol: false, symbol: "none", silent: true, clip: true, animation: false };
    series.push({ ...base, name: `red${i}`, data: zip(p.x, p.red), lineStyle: { color: RED, width: 1.4 }, itemStyle: { color: RED }, z: 2 });
    series.push({ ...base, name: `green${i}`, data: zip(p.x, p.green), lineStyle: { color: GREEN, width: 1.4 }, itemStyle: { color: GREEN }, z: 3 });
    const ml: any[] = p.vLines.map((v) => ({ xAxis: v }));
    if (p.zeroLine) ml.push({ yAxis: 0 });
    series.push({
      ...base, name: `blue${i}`, data: zip(p.x, p.blue), lineStyle: { color: BLUE, width: 1.8 }, itemStyle: { color: BLUE }, z: 4,
      markLine: {
        silent: true, symbol: ["none", "none"], label: { show: false }, animation: false,
        lineStyle: { type: [8, 5], color: "#222", width: 1.6 },
        emphasis: { disabled: true },
        data: ml,
      },
    });
    texts.push({
      type: "text", x: p.titlePos[0], y: p.titlePos[1], silent: true,
      style: { text: p.title, fontSize: 20, fontFamily: FONT, fill: "#111", align: "center", verticalAlign: "middle", textAlign: "center", textVerticalAlign: "middle" },
    });
    texts.push({
      type: "text", x: p.tauPos[0], y: p.tauPos[1], rotation: Math.PI / 2, silent: true,
      style: { text: "\u03c4", fontSize: 26, fontFamily: FONT, fill: "#111", align: "center", verticalAlign: "middle", textAlign: "center", textVerticalAlign: "middle" },
    });
  });
  return {
    animation: false,
    backgroundColor: "#ffffff",
    grid, xAxis, yAxis, series,
    graphic: { elements: texts },
  };
}

export default function App() {
  const ref = useRef<HTMLDivElement>(null);
  useEffect(() => {
    document.body.style.margin = "0";
    if (!ref.current) return;
    const chart = echarts.init(ref.current, undefined, { renderer: "svg" });
    chart.setOption(buildOption() as any);
    return () => chart.dispose();
  }, []);
  return <div ref={ref} style={{ width: 865, height: 653, background: "#fff" }} />;
}
